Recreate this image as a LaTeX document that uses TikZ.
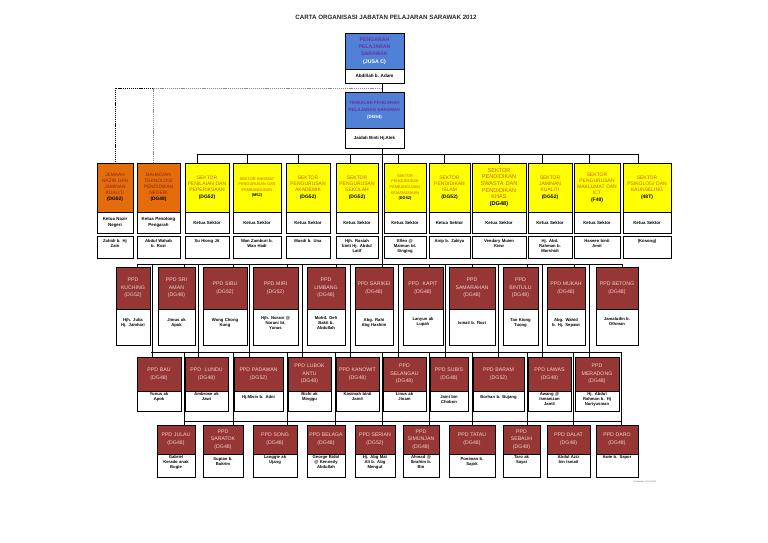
\documentclass[tikz,border=0pt]{standalone}
\usepackage{fontspec}
\setmainfont{Liberation Sans}
\definecolor{pblue}{RGB}{79,129,214}
\definecolor{ppurple}{RGB}{112,48,160}
\definecolor{porange}{RGB}{228,108,10}
\definecolor{pyellow}{RGB}{255,255,0}
\definecolor{pred}{RGB}{150,55,53}
\definecolor{ppink}{RGB}{242,208,206}
\definecolor{otext}{RGB}{140,40,20}
\definecolor{ytext}{RGB}{200,95,15}
\newcommand\dgk[1]{{\color{black}\bfseries(#1)}}
\tikzset{
  bx/.style={draw=black, line width=0.8pt, anchor=north west, inner sep=0pt, outer sep=0pt},
  bluebox/.style={bx, fill=pblue},
  orbox/.style={bx, fill=porange},
  yebox/.style={bx, fill=pyellow},
  rdbox/.style={bx, fill=pred},
  whbox/.style={bx, fill=white},
  txtbase/.style={align=center, inner sep=0pt},
  otxt/.style={txtbase, text=otext, font=\fontsize{4.8}{6}\selectfont},
  ytxt/.style={txtbase, text=ytext, font=\fontsize{5}{6.2}\selectfont},
  ysmall/.style={txtbase, text=ytext, font=\fontsize{3.9}{5.6}\selectfont},
  ybig/.style={txtbase, text=ytext, font=\fontsize{5.6}{6.6}\selectfont},
  ktxt/.style={txtbase, text=black, font=\fontsize{4.4}{6.2}\selectfont\bfseries},
  ntxt/.style={txtbase, text=black, font=\fontsize{4.2}{5.3}\selectfont\bfseries},
  ptxt/.style={txtbase, text=ppink, font=\fontsize{5.2}{7.6}\selectfont},
  ln/.style={draw=black, line width=0.6pt},
  dotl/.style={draw=black, line width=0.6pt, dash pattern=on 1.2pt off 0.9pt},
}
% sector unit: name, style, x1, x2, text, ketua, person, text style
\newcommand\secunit[8]{%
  \pgfmathsetmacro\mybw{#4-#3}\pgfmathsetmacro\mytw{#4-#3+6}%
  \node[#2, minimum width=\mybw pt, minimum height=49pt] (#1) at (#3,163) {};
  \node[#8, text width=\mytw pt] at (#1.center) {#5};
  \node[whbox, minimum width=\mybw pt, minimum height=21pt] (#1k) at (#3,212) {};
  \node[ktxt, text width=\mytw pt] at (#1k.center) {#6};
  \node[whbox, minimum width=\mybw pt, minimum height=22pt] (#1n) at (#3,236) {};
  \node[ntxt, text width=\mybw pt, anchor=north] at ([yshift=-3pt]#1n.north) {#7};
}
% PPD unit: name, x1, x2, y1, y2, y3, text, person, name yshift
\newcommand\ppd[9]{%
  \pgfmathsetmacro\mybw{#3-#2}\pgfmathsetmacro\mytw{#3-#2+8}%
  \pgfmathsetmacro\myha{#5-#4}\pgfmathsetmacro\myhb{#6-#5}%
  \node[rdbox, minimum width=\mybw pt, minimum height=\myha pt] (#1) at (#2,#4) {};
  \node[ptxt, text width=\mytw pt] at (#1.center) {#7};
  \node[whbox, minimum width=\mybw pt, minimum height=\myhb pt] (#1n) at (#2,#5) {};
  \node[ntxt, text width=\mybw pt, anchor=north] at ([yshift=#9pt]#1n.north) {#8};
}
\begin{document}
\begin{tikzpicture}[x=1pt,y=-1pt]
\fill[white] (0,0) rectangle (768,543);
\useasboundingbox (0,0) rectangle (768,543);

\node[font=\fontsize{6.2}{7}\selectfont\bfseries, text=black!85] (title) at (386,17) {CARTA ORGANISASI JABATAN PELAJARAN SARAWAK 2012};

% Pengarah
\node[bluebox, minimum width=59pt, minimum height=36pt] (peng) at (345,33) {};
\node[txtbase, text=ppurple, font=\fontsize{5.2}{7.4}\selectfont\bfseries] at (peng.center) {PENGARAH\\PELAJARAN\\SARAWAK\\{\color{white}(JUSA C)}};
\node[whbox, minimum width=59pt, minimum height=14pt] (pengn) at (345,69) {};
\node[ntxt, font=\fontsize{4.6}{5.5}\selectfont\bfseries] at (pengn.center) {Abdillah b. Adam};

% Timbalan
\node[bluebox, minimum width=59pt, minimum height=36pt] (timb) at (345,92) {};
\node[txtbase, text=ppurple, font=\fontsize{4.5}{7}\selectfont\bfseries] at (timb.center) {TIMBALAN PENGARAH\\PELAJARAN SARAWAK\\{\color{white}(DG54)}};
\node[whbox, minimum width=59pt, minimum height=20pt] (timbn) at (345,128) {};
\node[ntxt, font=\fontsize{4.4}{5.5}\selectfont\bfseries] at (timbn.center) {Jaidah Binti Hj.Alek};

% Sectors
\secunit{s1}{orbox}{97}{133}{JEMAAH\\NAZIR DAN\\JAMINAN\\KUALITI\\\dgk{DG52}}{Ketua Nazir\\Negeri}{Zahidi b. Hj\\Zain}{otxt}
\secunit{s2}{orbox}{137}{180}{BAHAGIAN\\TEKNOLOGI\\PENDIDIKAN\\NEGERI\\\dgk{DG48}}{Ketua Penolong\\Pengarah}{Abdul Wahab\\b. Rozi}{otxt}
\secunit{s3}{yebox}{185}{229}{SEKTOR\\PENILAIAN DAN\\PEPERIKSAAN\\\dgk{DG52}}{Ketua Sektor}{Su Hiong Jit}{ytxt}
\secunit{s4}{yebox}{233}{281}{SEKTOR KHIDMAT\\PENGURUSAN DAN\\PEMBANGUNAN\\\dgk{M52}}{Ketua Sektor}{Wan Zamburi b.\\Wan Hadi}{ysmall}
\secunit{s5}{yebox}{286}{330}{SEKTOR\\PENGURUSAN\\AKADEMIK\\\dgk{DG52}}{Ketua Sektor}{Masdi b. Una}{ytxt}
\secunit{s6}{yebox}{336}{378}{SEKTOR\\PENGURUSAN\\SEKOLAH\\\dgk{DG52}}{Ketua Sektor}{Hjh. Rasiah\\binti Hj. Abdul\\Latif}{ytxt}
\secunit{s7}{yebox}{384}{426}{SEKTOR\\PENGURUSAN\\PEMBANGUNAN\\KEMANUSIAAN\\\dgk{DG52}}{Ketua Sektor}{Ellen @\\Maimun bt.\\Singing}{ysmall}
\secunit{s8}{yebox}{429}{470}{SEKTOR\\PENDIDIKAN\\ISLAM\\\dgk{DG52}}{Ketua Sektor}{Anip b. Zakiya}{ytxt}
\secunit{s9}{yebox}{472}{526}{SEKTOR\\PENDIDIKAN\\SWASTA DAN\\PENDIDIKAN\\KHAS\\\dgk{DG48}}{Ketua Sektor}{Vendary Muien\\Kiew}{ybig}
\secunit{s10}{yebox}{528}{572}{SEKTOR\\JAMINAN\\KUALITI\\\dgk{DG52}}{Ketua Sektor}{Hj. Abd.\\Rahman b.\\Morshidi}{ytxt}
\secunit{s11}{yebox}{574}{620}{SEKTOR\\PENGURUSAN\\MAKLUMAT DAN\\ICT\\\dgk{F48}}{Ketua Sektor}{Haseen binti\\Amit}{ytxt}
\secunit{s12}{yebox}{623}{671}{SEKTOR\\PSIKOLOGI DAN\\KAUNSELING\\\dgk{48T}}{Ketua Sektor}{(Kosong)}{ytxt}

% PPD row 1
\ppd{kch}{116}{150}{267}{309}{345}{PPD\\KUCHING\\(DG52)}{Hjh. Julia\\Hj. Jamhari}{-9}
\ppd{sri}{158}{195}{267}{309}{345}{PPD SRI\\AMAN\\(DG48)}{Jimus ak\\Apok}{-9}
\ppd{sibu}{203}{247}{267}{309}{345}{PPD SIBU\\(DG52)}{Wong Chong\\Kung}{-9}
\ppd{miri}{253}{298}{267}{309}{345}{PPD MIRI\\(DG52)}{Hjh. Norani @\\Norani bt.\\Yunus}{-7}
\ppd{lim}{307}{345}{267}{309}{345}{PPD\\LIMBANG\\(DG48)}{Mohd. Deli\\Bakti b.\\Abdullah}{-7}
\ppd{sar}{355}{393}{267}{309}{345}{PPD SARIKEI\\(DG48)}{Abg. Rahi\\Abg Hashim}{-9}
\ppd{kap}{403}{443}{267}{309}{345}{PPD\ \ KAPIT\\(DG48)}{Lanyun ak\\Lupah}{-8}
\ppd{sam}{449}{495}{267}{309}{345}{PPD\\SAMARAHAN\\(DG48)}{Ismail b. Rozi}{-12}
\ppd{bin}{503}{538}{267}{309}{345}{PPD\\BINTULU\\(DG48)}{Tan Kiong\\Tuong}{-9}
\ppd{muk}{547}{585}{267}{309}{345}{PPD MUKAH\\(DG48)}{Abg. Wahid\\b. Hj. Sepawi}{-9}
\ppd{bet}{596}{638}{267}{309}{345}{PPD BETONG\\(DG48)}{Jamaludin b.\\Othman}{-8}

% PPD row 2
\ppd{bau}{137}{181}{357}{391}{411}{PPD BAU\\(DG48)}{Yunus ak\\Apok}{-1}
\ppd{lun}{185}{228}{357}{391}{411}{PPD\ \ LUNDU\\(DG48)}{Ambrose ak\\Jawi}{-1}
\ppd{pad}{234}{283}{357}{391}{411}{PPD PADAWAN\\(DG52)}{Hj.Misin b. Adni}{-4}
\ppd{lub}{288}{331}{357}{391}{411}{PPD LUBOK\\ANTU\\(DG48)}{Bichi ak\\Minggu}{-1}
\ppd{kan}{336}{379}{357}{391}{411}{PPD KANOWIT\\(DG48)}{Kasimah binti\\Jamil}{-1}
\ppd{sel}{383}{426}{357}{391}{411}{PPD\\SELANGAU\\(DG48)}{Linus ak\\Jinam}{-1}
\ppd{sub}{430}{468}{357}{391}{411}{PPD SUBIS\\(DG48)}{Jaini bin\\Chobon}{-4}
\ppd{bar}{473}{524}{357}{391}{411}{PPD BARAM\\(DG52)}{Borhan b. Bujang}{-4}
\ppd{law}{528}{571}{357}{391}{411}{PPD LAWAS\\(DG48)}{Awang @\\Ismanizan\\Jamil}{-1}
\ppd{mer}{575}{619}{357}{391}{411}{PPD\\MERADONG\\(DG48)}{Hj. Abdul\\Rahman b. Hj\\Nuriyusman}{-1}

% PPD row 3
\ppd{jul}{157}{195}{425}{454}{477}{PPD JULAU\\(DG48)}{Gabriel\\Kerado anak\\Bugie}{-1}
\ppd{sat}{203}{243}{425}{454}{477}{PPD\\SARATOK\\(DG48)}{Supian b.\\Bakrim}{-3}
\ppd{son}{253}{297}{425}{454}{477}{PPD SONG\\(DG48)}{Langgie ak\\Ujang}{-1}
\ppd{bel}{307}{345}{425}{454}{477}{PPD BELAGA\\(DG48)}{George Bidol\\@ Kennedy\\Abdullah}{-1}
\ppd{ser}{355}{395}{425}{454}{477}{PPD SERIAN\\(DG52)}{Hj. Abg Mat\\Ali b. Abg\\Mengut}{-1}
\ppd{sim}{403}{439}{425}{454}{477}{PPD\\SIMUNJAN\\(DG48)}{Ahmad @\\Ibrahim b.\\Bin}{-1}
\ppd{tat}{449}{495}{425}{454}{477}{PPD TATAU\\(DG48)}{Poniman b.\\Sajok}{-3}
\ppd{seb}{503}{540}{425}{454}{477}{PPD\\SEBAUH\\(DG48)}{Taro ak\\Sayai}{-1}
\ppd{dal}{547}{590}{425}{454}{477}{PPD DALAT\\(DG48)}{Abdul Aziz\\bin Ismail}{-1}
\ppd{dar}{596}{638}{425}{454}{477}{PPD DARO\\(DG48)}{Awie b. Sapor}{-1}

% connectors
\coordinate (d0) at (382,88);
\coordinate (sb) at (382,154);
\coordinate (b1) at (382,264);
\coordinate (b2) at (382,352);
\coordinate (b2L) at (151,352);
\coordinate (b2R) at (621,352);
\coordinate (b3L) at (184,421);
\coordinate (b3R) at (621,421);
\draw[ln] ([xshift=7.5pt]pengn.south) -- ([xshift=7.5pt]timb.north);
\draw[dotl] (d0) -| (s1.north);
\draw[dotl, draw=black!45] (d0) -| ([xshift=-5pt]s2.north);
\draw[ln] ([xshift=7.5pt]timbn.south) -- (b1);
\foreach \n/\s in {s3/-10,s4/-10,s5/-10,s6/-7,s7/-7,s8/-5.5,s9/0,s10/-8,s11/-8,s12/-9}
  \draw[ln] ([xshift=\s pt]\n.north) |- (sb);
\foreach \n/\s in {kch/4,sri/7.5,sibu/8,miri/11.5,lim/10,sar/8,kap/6,sam/0,bin/6.5,muk/8,bet/5}
  \draw[ln] ([xshift=\s pt]\n.north) |- (b1);
\foreach \n/\s in {bau/-7,lun/-8.5,pad/-9.5,lub/-7.5,kan/-7.5,sel/-6.5,sub/-4,bar/0,law/-7.5,mer/-8}
  \draw[ln] ([xshift=\s pt]\n.north) |- (b1);
\foreach \n/\s in {jul/8,sat/10,son/12,bel/9,ser/7,sim/8,tat/0,seb/5.5,dal/4.5,dar/4}
  \draw[ln] ([xshift=\s pt]\n.north) |- (b2);
\draw[ln] (b2L) -- (b2R);
\draw[ln] (b3L) -- (b3R);

\node[font=\fontsize{2.2}{3}\selectfont, text=black!60] (foot) at (645,482) {Kemaskini: 20.07.2012};
\end{tikzpicture}
\end{document}
